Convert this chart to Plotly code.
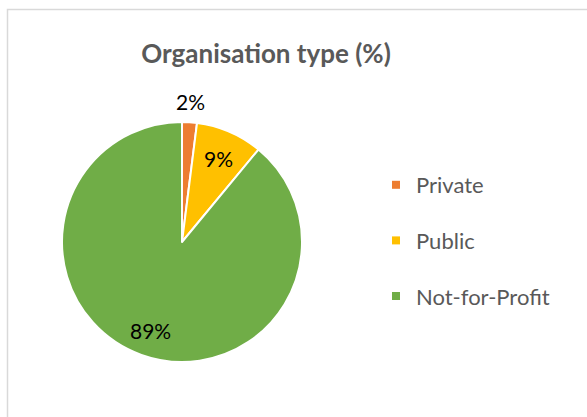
import math
import plotly.graph_objects as go

# Share of organisations by type
categories = ["Private", "Public", "Not-for-Profit"]
shares = [2, 9, 89]
colors = ["#ED7D31", "#FFC000", "#70AD47"]
# radial position of each data label, as a fraction of the pie radius
label_radius = [1.17, 0.76, 0.78]

W, H = 587, 417
FONT = "Lato"

# pie placement in pixels
cx, cy, R = 182, 242, 120

fig = go.Figure()

fig.add_trace(go.Pie(
    labels=categories,
    values=shares,
    sort=False,
    direction="clockwise",
    rotation=0,
    marker=dict(colors=colors, line=dict(color="white", width=2)),
    textinfo="none",
    showlegend=False,
    hoverinfo="label+value",
    domain=dict(x=[(cx - R) / W, (cx + R) / W], y=[(H - cy - R) / H, (H - cy + R) / H]),
))

# Data labels at each slice's mid-angle (clockwise from 12 o'clock)
total = sum(shares)
cum = 0
for v, f in zip(shares, label_radius):
    mid = (cum + v / 2) / total * 2 * math.pi
    cum += v
    px = cx + f * R * math.sin(mid)
    py = cy - f * R * math.cos(mid)
    fig.add_annotation(
        x=px / W, y=1 - py / H, xref="paper", yref="paper",
        text=f"{v}%", showarrow=False,
        xanchor="center", yanchor="middle",
        font=dict(family=FONT, size=21, color="#000000"),
    )

# Legend entries, one group each so they can be spaced apart
for name, col in zip(categories, colors):
    fig.add_trace(go.Scatter(
        x=[None], y=[None], mode="markers", name=name, legendgroup=name,
        marker=dict(symbol="square", size=8, color=col),
        showlegend=True,
    ))

fig.update_layout(
    width=W, height=H,
    margin=dict(l=0, r=0, t=0, b=0),
    paper_bgcolor="white",
    plot_bgcolor="white",
    xaxis=dict(visible=False),
    yaxis=dict(visible=False),
    title=dict(
        text="<b>Organisation type (%)</b>",
        x=266 / W, xanchor="center",
        y=1 - 54 / H, yanchor="middle",
        font=dict(family=FONT, size=26, color="#595959"),
    ),
    legend=dict(
        x=376 / W, xanchor="left",
        y=1 - 164 / H, yanchor="top",
        font=dict(family=FONT, size=22, color="#595959"),
        tracegroupgap=24,
        itemwidth=30,
        bgcolor="rgba(0,0,0,0)",
    ),
    shapes=[dict(
        type="rect", xref="paper", yref="paper",
        x0=7.5 / W, x1=1 + 20 / W, y0=-20 / H, y1=1 - 9.5 / H,
        line=dict(color="#D9D9D9", width=1.5),
        fillcolor="rgba(0,0,0,0)",
    )],
)

fig.write_html("out.html")
